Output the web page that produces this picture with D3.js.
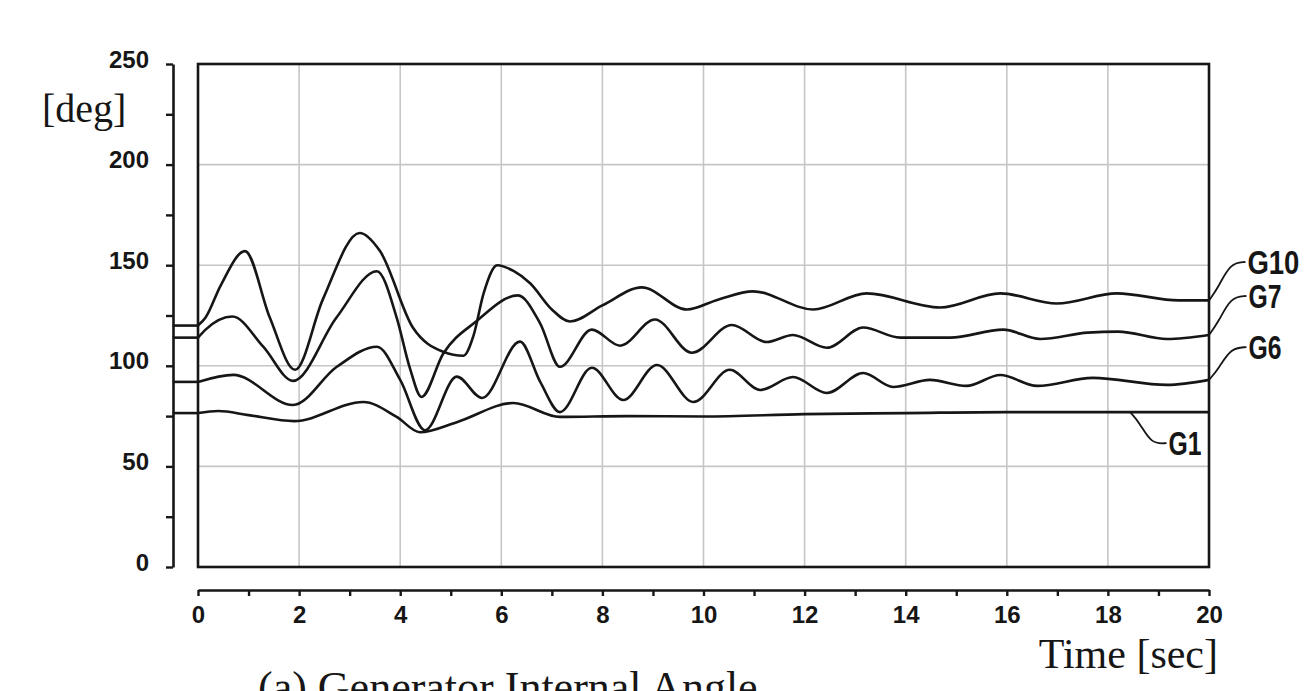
<!DOCTYPE html>
<html>
<head>
<meta charset="utf-8">
<script src="https://cdn.jsdelivr.net/npm/d3@7/dist/d3.min.js"></script>
<style>
  html, body { margin: 0; padding: 0; background: #fff; }
  svg { display: block; }
</style>
</head>
<body>
<svg id="chart" width="1310" height="691"></svg>
<script>
// ---------------- DATA ----------------
const yTickValues = [0, 25, 50, 75, 100, 125, 150, 175, 200, 225, 250];
const yLabelValues = [0, 50, 100, 150, 200, 250];
const xTickValues = [0,1,2,3,4,5,6,7,8,9,10,11,12,13,14,15,16,17,18,19,20];
const xLabelValues = [0, 2, 4, 6, 8, 10, 12, 14, 16, 18, 20];
const xGridValues = [2, 4, 6, 8, 10, 12, 14, 16, 18];
const yGridValues = [50, 100, 150, 200];
const preFaultStart = -0.5;

// [time (s), angle (deg)]
const g10 = [[0,120],[0.15,124],[0.45,140],[0.93,157],[1.42,124],[1.92,98],[2.47,133],[3.2,166],[3.6,157],
  [4.25,119],[4.85,107],[5.25,105],[5.45,115],[5.65,136],[5.92,150],[6.25,147],[6.57,141],[7.0,128],
  [7.36,122],[8.0,130],[8.78,139],[9.67,128],[10.3,133],[10.98,137],[12.17,128],[13.23,136],[14.68,129],
  [15.87,136],[16.99,131],[18.18,136],[19.4,132.5],[20,132.5]];
const g7 = [[0,114],[0.15,118],[0.68,124.5],[1.29,109.5],[1.88,92.5],[2.74,124],[3.54,147],[3.93,124],
  [4.19,99],[4.42,84.5],[4.85,106],[5.5,122],[6.33,135],[6.77,121],[7.16,99.5],[7.79,118],[8.35,110],
  [9.04,123],[9.77,106.5],[10.56,120.3],[11.25,111.8],[11.77,115.3],[12.44,109],[13.16,119],[13.89,114],
  [14.88,114],[15.93,118],[16.66,113.3],[17.6,116.5],[18.2,117],[19.17,113.3],[20,115.3]];
const g6 = [[0,92],[0.7,95.5],[1.88,80.5],[2.74,99.4],[3.54,109.5],[4.0,93],[4.49,68],[5.12,94.6],[5.62,84],
  [6.37,112],[6.77,92],[7.16,77],[7.79,99],[8.41,83],[9.08,100.4],[9.8,82],[10.52,98],[11.12,88],
  [11.77,94.4],[12.44,86.5],[13.16,96.4],[13.75,89.5],[14.48,93],[15.2,90],[15.87,95.4],[16.6,90],
  [17.7,94],[19.17,90.5],[20,93]];
const g1 = [[0,76.5],[0.4,77.5],[1.0,75.5],[1.9,72.5],[3.27,82],[3.93,74.6],[4.39,67],[5.12,72],[6.24,81.5],
  [7.16,74.6],[8.5,75],[10,74.8],[12,76],[14,76.5],[16,77],[18,77],[20,77]];

const seriesNames = ["G10", "G7", "G6", "G1"];
const seriesData = [g10, g7, g6, g1];
// label anchor in data units: [time, angle]
const labelAnchors = [[20.76, 151.6], [20.78, 134.7], [20.78, 109.3], [19.2, 61.6]];
const leaderStarts = [[20, 132.5], [20, 115.3], [20, 93], [18.44, 77]];

// ---------------- CHART ----------------
const svg = d3.select("#chart");
const x = d3.scaleLinear().domain([0, 20]).range([198, 1209]);
const y = d3.scaleLinear().domain([0, 250]).range([567, 64]);
const ink = "#161616";

// grid
svg.append("g").selectAll("line").data(xGridValues).join("line")
  .attr("x1", d => x(d)).attr("x2", d => x(d)).attr("y1", y(250)).attr("y2", y(0))
  .attr("stroke", "#c6c6c6").attr("stroke-width", 1.6);
svg.append("g").selectAll("line").data(yGridValues).join("line")
  .attr("x1", x(0)).attr("x2", x(20)).attr("y1", d => y(d)).attr("y2", d => y(d))
  .attr("stroke", "#c6c6c6").attr("stroke-width", 1.6);

// frame
svg.append("rect").attr("x", x(0)).attr("y", y(250))
  .attr("width", x(20) - x(0)).attr("height", y(0) - y(250))
  .attr("fill", "none").attr("stroke", ink).attr("stroke-width", 2.6);

// y axis (separate line)
const yAxis = d3.axisLeft(y).tickValues(yTickValues).tickSize(7).tickSizeOuter(0).tickPadding(17)
  .tickFormat(d => yLabelValues.includes(d) ? d : "");
const gy = svg.append("g").attr("transform", `translate(173,0)`).call(yAxis);
gy.select(".domain").attr("stroke", ink).attr("stroke-width", 2.6);
gy.selectAll(".tick line").attr("stroke", ink).attr("stroke-width", 2.4);
gy.selectAll("text").attr("font-family", "'Liberation Sans', Arial, sans-serif")
  .attr("font-weight", "bold").attr("font-size", 24).attr("fill", ink).attr("dy", "0.13em");

// x axis (separate line)
const xAxis = d3.axisBottom(x).tickValues(xTickValues).tickSize(6).tickSizeOuter(0).tickPadding(10)
  .tickFormat(d => xLabelValues.includes(d) ? d : "");
const gx = svg.append("g").attr("transform", `translate(0,590)`).call(xAxis);
gx.select(".domain").attr("stroke", ink).attr("stroke-width", 2.6);
gx.selectAll(".tick line").attr("stroke", ink).attr("stroke-width", 2.4);
gx.selectAll("text").attr("font-family", "'Liberation Sans', Arial, sans-serif")
  .attr("font-weight", "bold").attr("font-size", 24).attr("fill", ink);

// curves
const line = d3.line().x(d => x(d[0])).y(d => y(d[1])).curve(d3.curveMonotoneX);
const straight = d3.line().x(d => x(d[0])).y(d => y(d[1]));
seriesData.forEach(s => {
  svg.append("path").attr("d", straight([[preFaultStart, s[0][1]], [0, s[0][1]]]))
    .attr("fill", "none").attr("stroke", ink).attr("stroke-width", 2.6);
  svg.append("path").attr("d", line(s))
    .attr("fill", "none").attr("stroke", ink).attr("stroke-width", 2.6)
    .attr("stroke-linejoin", "round");
});

// leaders + labels
const leader = d3.line().curve(d3.curveBasis);
seriesNames.forEach((name, i) => {
  const [lt, lv] = labelAnchors[i];
  const [st, sv] = leaderStarts[i];
  const lx = x(lt), ly = y(lv);
  const sx = x(st), sy = y(sv);
  const pts = [[sx, sy], [sx + (lx - sx) * 0.25, sy + (ly - sy) * 0.35], [sx + (lx - sx) * 0.55, ly + 1], [lx - 2, ly]];
  svg.append("path").attr("d", leader(pts)).attr("fill", "none")
    .attr("stroke", ink).attr("stroke-width", 1.8);
  svg.append("text").attr("x", lx).attr("y", ly).attr("dy", "0.36em")
    .attr("font-family", "'Liberation Sans Narrow', 'Arial Narrow', 'Liberation Sans', sans-serif")
    .attr("font-weight", "bold").attr("font-size", 33).attr("fill", ink)
    .attr("textLength", name.length === 3 ? 52 : 33).attr("lengthAdjust", "spacingAndGlyphs")
    .text(name);
});

// serif texts
const serif = "'Liberation Serif', 'Times New Roman', serif";
svg.append("text").attr("x", 42).attr("y", 122).attr("font-family", serif)
  .attr("font-size", 40).attr("fill", ink).text("[deg]");
svg.append("text").attr("x", 1218).attr("y", 668).attr("text-anchor", "end").attr("font-family", serif)
  .attr("font-size", 42).attr("fill", ink).text("Time [sec]");
svg.append("text").attr("x", 258).attr("y", 702).attr("font-family", serif)
  .attr("font-size", 44).attr("fill", ink).text("(a) Generator Internal Angle");
</script>
</body>
</html>
